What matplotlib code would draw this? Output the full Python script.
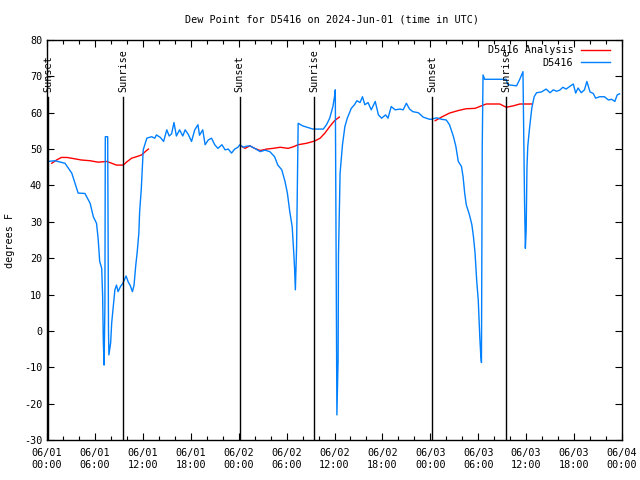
import numpy as np
import matplotlib
matplotlib.use("Agg")
import matplotlib.pyplot as plt

# Hours since 2024-06-01 00:00 UTC
obs_hours = [0.1, 1.0, 2.25, 3.1, 3.9, 4.75, 5.4, 5.8, 6.2, 6.4, 6.6, 6.85, 6.97, 7.05, 7.15,
             7.25, 7.3, 7.6, 7.7, 7.75, 7.97, 8.1, 8.3, 8.5, 8.7, 8.9, 9.2, 9.5, 9.9, 10.2,
             10.4, 10.7, 10.9, 11.1, 11.3, 11.5, 11.6, 11.8, 12.05, 12.5, 13.1, 13.5, 13.7,
             14.2, 14.6, 15.0, 15.3, 15.6, 15.9, 16.2, 16.6, 17.0, 17.3, 17.7, 18.1, 18.5,
             18.9, 19.1, 19.5, 19.8, 20.2, 20.6, 21.0, 21.4, 21.9, 22.3, 22.7, 23.1, 23.5,
             23.9, 24.15, 24.6, 25.0, 25.4, 26.0, 26.7, 27.3, 27.9, 28.5, 28.9, 29.4, 29.8,
             30.1, 30.4, 30.7, 30.9, 31.0, 31.1, 31.25, 31.4, 31.45, 32.0, 33.3, 34.6, 35.0,
             35.4, 35.8, 36.0, 36.1, 36.3, 36.45, 36.5, 36.7, 37.0, 37.3, 37.6, 38.1, 38.5,
             38.8, 39.2, 39.5, 39.8, 40.2, 40.6, 41.1, 41.5, 41.9, 42.4, 42.7, 43.1, 43.6,
             44.2, 44.6, 45.0, 45.4, 45.8, 46.5, 47.1, 47.9, 48.1, 48.8, 49.4, 50.0, 50.4,
             50.9, 51.2, 51.5, 51.9, 52.1, 52.3, 52.5, 52.9, 53.2, 53.4, 53.6, 53.8, 54.0,
             54.1, 54.2, 54.3, 54.4, 54.5, 54.6, 54.8, 57.5, 57.7, 58.8, 59.2, 59.6, 59.8,
             59.9, 60.0, 60.1, 60.2, 60.4, 60.7, 61.0, 61.3, 61.9, 62.5, 63.0, 63.4, 63.8,
             64.2, 64.6, 65.0, 65.5, 65.9, 66.2, 66.5, 66.9, 67.3, 67.6, 68.0, 68.4, 68.7,
             69.2, 69.8, 70.3, 70.7, 71.1, 71.4, 71.7]
obs_dewpt = [46.6, 46.8, 46.1, 43.4, 37.9, 37.8, 35.1, 31.4, 29.6, 25.5, 19.1, 17.2, 9.4, -2.9, -9.4,
             6.7, 53.4, 53.4, 0.0, -6.6, -3.3, 2.2, 6.7, 11.3, 12.6, 10.8, 12.2, 13.1, 15.1, 13.3,
             12.6, 10.8, 12.6, 17.7, 21.8, 26.9, 32.8, 38.8, 49.8, 53.0, 53.4, 53.0, 53.9,
             53.2, 52.1, 55.3, 53.6, 54.2, 57.3, 53.6, 55.3, 53.6, 55.3, 54.0, 52.1, 55.3,
             56.7, 53.8, 55.3, 51.2, 52.5, 53.0, 51.2, 50.2, 51.2, 49.8, 50.0, 48.9, 50.0,
             50.5, 51.2, 50.5, 50.8, 50.9, 50.2, 49.3, 49.7, 49.3, 47.9, 45.6, 44.3, 41.1,
             37.9, 32.8, 28.7, 21.4, 17.2, 11.3, 22.8, 50.0, 57.1, 56.4, 55.5, 55.5, 56.7,
             58.5, 61.7, 64.4, 66.3, -23.1, -8.0, 20.9, 43.4, 51.2, 56.2, 58.5, 61.2, 62.2,
             63.3, 62.8, 64.4, 62.2, 62.8, 60.8, 63.1, 59.4, 58.5, 59.4, 58.5, 61.7, 60.8,
             61.0, 60.8, 62.6, 61.0, 60.3, 60.0, 58.8, 58.2, 58.2, 58.6, 58.2, 58.0, 56.7,
             53.4, 50.7, 46.6, 45.2, 42.4, 37.9, 34.7, 31.9, 29.2, 25.9, 21.4, 14.0, 8.5,
             3.0, -2.0, -6.1, -8.7, 50.7, 70.4, 69.2, 69.2, 67.7, 67.4, 69.2, 71.3, 35.2,
             22.7, 27.8, 45.0, 50.7, 55.3, 61.2, 64.4, 65.5, 65.7, 66.5, 65.5, 66.3, 65.9,
             66.2, 67.0, 66.5, 67.3, 67.9, 65.4, 66.8, 65.5, 66.3, 68.6, 65.7, 65.3, 64.0,
             64.4, 64.4, 63.5, 63.7, 63.1, 64.9, 65.2]

ana_hours = [0.6, 1.2, 1.8, 2.5, 3.3, 4.3, 5.4, 6.4, 7.5, 8.1, 8.7, 9.55, 10.0, 10.6, 11.2,
             11.85, 12.3, 12.7, np.nan,
             24.4, 24.8, 25.4, 26.0, 26.7, 27.5, 28.3, 29.2, 30.2, 30.8, 31.45, 32.5, 33.5,
             34.2, 34.8, 35.4, 36.0, 36.6, np.nan,
             48.6, 49.4, 50.4, 51.5, 52.5, 53.6, 54.4, 55.0, 56.7, 57.5, 58.4, 59.2, 60.7]
ana_dewpt = [46.1, 47.0, 47.7, 47.7, 47.4, 47.0, 46.8, 46.4, 46.6, 46.1, 45.6, 45.6, 46.5, 47.5, 47.9,
             48.4, 49.3, 50.0, np.nan,
             50.7, 50.2, 50.9, 50.2, 49.6, 50.0, 50.2, 50.5, 50.2, 50.6, 51.2, 51.6, 52.2,
             53.0, 54.4, 56.2, 57.8, 58.8, np.nan,
             57.8, 58.8, 59.9, 60.6, 61.1, 61.2, 61.9, 62.4, 62.4, 61.5, 61.9, 62.4, 62.4]

sun_hours = [0.15, 9.55, 24.15, 33.45, 48.22, 57.53]
sun_labels = ["Sunset", "Sunrise", "Sunset", "Sunrise", "Sunset", "Sunrise"]

xtick_hours = list(range(0, 73, 6))
xtick_labels = ["06/01\n00:00", "06/01\n06:00", "06/01\n12:00", "06/01\n18:00",
                "06/02\n00:00", "06/02\n06:00", "06/02\n12:00", "06/02\n18:00",
                "06/03\n00:00", "06/03\n06:00", "06/03\n12:00", "06/03\n18:00",
                "06/04\n00:00"]
yticks = list(range(-30, 81, 10))

FONT = "DejaVu Sans Mono"
FS = 7.3

fig = plt.figure(figsize=(6.4, 4.8), dpi=100)
ax = fig.add_axes([47/640, 40/480, (622-47)/640, 400/480])

ax.plot(ana_hours, ana_dewpt, color="#ff0000", lw=1.0, label="D5416 Analysis")
ax.plot(obs_hours, obs_dewpt, color="#0080ff", lw=1.0, label="D5416")

for h, lab in zip(sun_hours, sun_labels):
    ax.plot([h, h], [0, 0.8575], color="black", lw=1.0,
            transform=ax.get_xaxis_transform())
    ax.text(h, 0.87, lab, rotation=90, ha="center", va="bottom",
            transform=ax.get_xaxis_transform(), fontsize=FS, family=FONT)

ax.set_xlim(0, 72)
ax.set_ylim(-30, 80)
ax.set_xticks(xtick_hours)
ax.set_xticklabels(xtick_labels, fontsize=FS, family=FONT)
ax.set_xticks(list(range(0, 73, 2)), minor=True)
ax.set_yticks(yticks)
ax.set_yticklabels([str(v) for v in yticks], fontsize=FS, family=FONT)
ax.tick_params(which="major", direction="in", length=5, top=True, right=True, width=0.8)
ax.tick_params(which="minor", direction="in", length=3, top=True, right=True, width=0.8)
ax.tick_params(axis="x", which="major", pad=6)
for s in ax.spines.values():
    s.set_linewidth(1.0)

fig.text(10/640, 0.5, "degrees F", rotation=90, ha="center", va="center",
         fontsize=FS, family=FONT)
fig.text(332/640, 1 - 19/480, "Dew Point for D5416 on 2024-Jun-01 (time in UTC)",
         ha="center", va="center", fontsize=FS, family=FONT)

leg = ax.legend(loc="upper right", bbox_to_anchor=(1 - 8/575, 1 - 1/400),
                frameon=False, markerfirst=False,
                prop={"family": FONT, "size": FS}, handlelength=2.9,
                borderaxespad=0.0, borderpad=0.4, labelspacing=0.25, handletextpad=0.7)

fig.savefig("out.png", dpi=100)
